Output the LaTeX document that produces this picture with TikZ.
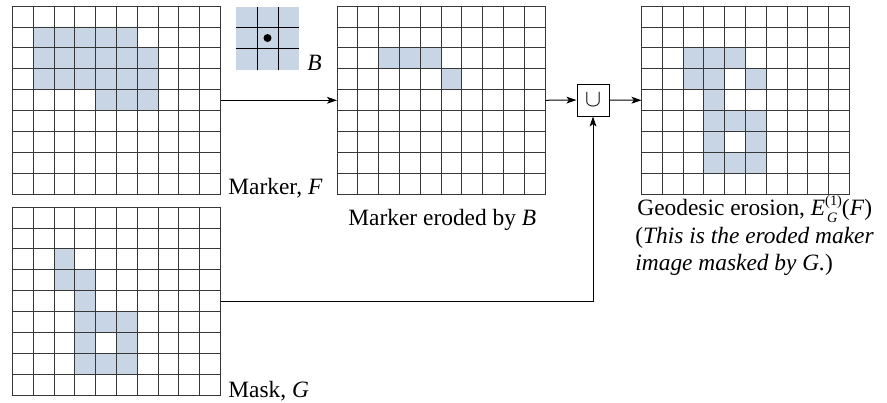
\documentclass[tikz,border=0pt]{standalone}
\usepackage{fontspec}
\setmainfont{Liberation Serif}
\usetikzlibrary{arrows.meta}
\definecolor{cellblue}{RGB}{200,213,229}
\definecolor{gridline}{RGB}{55,55,55}
\newcommand{\drawgrid}[4]{%
  \fill[cellblue] foreach \c/\r in {#4} {({#2+\c*20.8},{#3+\r*20.95}) rectangle ++(20.8,20.95)};
  \foreach \i in {0,...,10} \draw[gline] ({#2+\i*20.8},#3) -- ++(0,188.55);
  \foreach \j in {0,...,9} \draw[gline] (#2,{#3+\j*20.95}) -- ++(208,0);
  \node[gridbox, anchor=north west] (#1) at (#2,#3) {};
}
\tikzset{
  gline/.style={draw=gridline, line width=0.45pt},
  gridbox/.style={inner sep=0pt, outer sep=0pt, minimum width=104pt, minimum height=94.275pt},
  arr/.style={-{Stealth[length=5pt,width=3.4pt,inset=1.2pt]}, line width=0.5pt},
  lbl/.style={anchor=base west, inner sep=0pt, font=\fontsize{11.7}{14}\selectfont},
}
\begin{document}
\begin{tikzpicture}[x=0.5pt,y=-0.5pt]
\useasboundingbox (0,0) rectangle (887,402);
% Marker F
\drawgrid{F}{12.5}{6}{1/1,2/1,3/1,4/1,5/1, 1/2,2/2,3/2,4/2,5/2,6/2, 1/3,2/3,3/3,4/3,5/3,6/3, 4/4,5/4,6/4}
% Mask G
\drawgrid{G}{12.5}{207}{2/2, 2/3,3/3, 3/4, 3/5,4/5,5/5, 3/6,5/6, 3/7,4/7,5/7}
% Eroded marker
\drawgrid{Er}{337}{6}{2/2,3/2,4/2,5/3}
% Geodesic erosion
\drawgrid{Ge}{641.5}{6}{2/2,3/2,4/2, 2/3,3/3,5/3, 3/4, 3/5,4/5,5/5, 3/6,5/6, 3/7,4/7,5/7}
% Structuring element B
\fill[cellblue] (236,6.5) rectangle (299,69.5);
\draw[black, line width=0.45pt] (257,6.5) -- (257,69.5) (278,6.5) -- (278,69.5)
  (236,27.5) -- (299,27.5) (236,48.5) -- (299,48.5);
\fill[black] (267.5,38) circle[radius=2pt];
\node[inner sep=0pt, minimum width=31.5pt, minimum height=31.5pt] (Bx) at (267.5,38) {};
% union box
\node[draw, line width=0.5pt, minimum size=16pt, inner sep=0pt, font=\fontsize{12.5}{14}\selectfont] (U) at (593,100) {$\cup$};
% connectors
\draw[arr] (F.east) -- (Er.west);
\draw[arr] (Er.east) -- (U.west);
\draw[arr] (U.east) -- (Ge.west);
\draw[arr] (G.east) -| (U.south);
% labels
\node[lbl] (lF) at (228,194.5) {Marker, \textit{F}};
\node[lbl] (lB) at (307,70) {\textit{B}};
\node[lbl] (lEr) at (348,225) {Marker eroded by \textit{B}};
\node[lbl] (lG) at (228,397) {Mask, \textit{G}};
\node[lbl] (geo1) at (637,215) {Geodesic erosion, \textit{E}\makebox[0pt][l]{\hspace{1pt}\raisebox{-3.6pt}{\fontsize{7.2}{8}\selectfont\textit{G}}}\raisebox{5pt}{\fontsize{7.2}{8}\selectfont(1)}(\textit{F})};
\node[lbl] (geo2) at (635,243) {(\textit{This is the eroded maker}};
\node[lbl] (geo3) at (635,270) {\textit{image masked by G.})};
\end{tikzpicture}
\end{document}
